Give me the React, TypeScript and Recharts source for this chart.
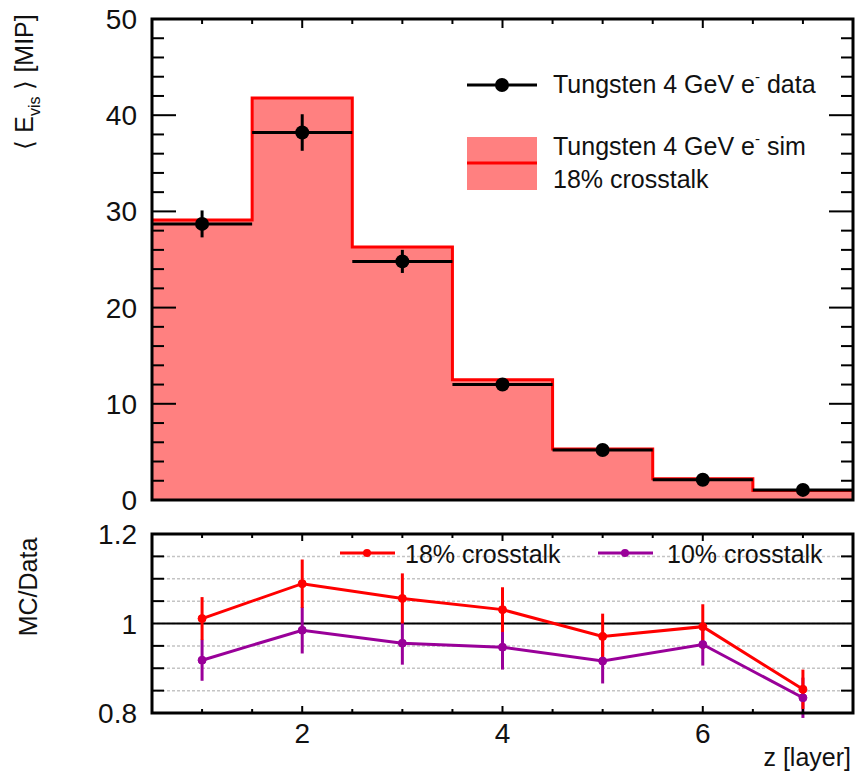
import React from 'react'
import { ComposedChart, Area, Scatter, Line, XAxis, YAxis, CartesianGrid, ErrorBar, ReferenceLine } from 'recharts'

// layer index (bin centres)
const layers = [1, 2, 3, 4, 5, 6, 7]

// top panel: <E_vis> in MIP
const simEnergy = [29.1, 41.8, 26.3, 12.5, 5.3, 2.2, 1.0]
const dataEnergy = [28.7, 38.2, 24.8, 12.0, 5.2, 2.1, 1.05]
const dataEnergyErr = [1.4, 1.9, 1.2, 0.6, 0.35, 0.25, 0.2]

// bottom panel: MC/Data ratios
const ratio18 = [1.011, 1.089, 1.056, 1.031, 0.971, 0.993, 0.853]
const ratio18Err = [0.048, 0.054, 0.056, 0.05, 0.051, 0.05, 0.044]
const ratio10 = [0.918, 0.985, 0.956, 0.947, 0.916, 0.953, 0.834]
const ratio10Err = [0.046, 0.052, 0.048, 0.05, 0.05, 0.047, 0.045]

// ticks
const xTicks = [1, 1.5, 2, 2.5, 3, 3.5, 4, 4.5, 5, 5.5, 6, 6.5, 7]
const xLabels = [2, 4, 6]
const xRange = [0.5, 7.5]
const energyTicks = [0, 2, 4, 6, 8, 10, 12, 14, 16, 18, 20, 22, 24, 26, 28, 30, 32, 34, 36, 38, 40, 42, 44, 46, 48, 50]
const energyRange = [0, 50]
const ratioTicks = [0.8, 0.85, 0.9, 0.95, 1, 1.05, 1.1, 1.15, 1.2]
const ratioLabels = [0.8, 1, 1.2]
const ratioRange = [0.8, 1.2]

const dataName = 'Tungsten 4 GeV e'
const simName = 'Tungsten 4 GeV e'
const name18 = '18% crosstalk'
const name10 = '10% crosstalk'

const FONT = '"Liberation Sans", Arial, Helvetica, sans-serif'
const INK = '#111'
const RED = '#ff0000'
const PURPLE = '#990099'
const HIST_FILL = '#ff8080'

// pad geometry (px)
const W = 855
const PAD_LEFT = 152
const PAD_RIGHT = 2
const TOP_H = 520
const TOP_MARGIN_T = 19
const TOP_MARGIN_B = 20
const BOT_H = 254
const BOT_MARGIN_T = 14
const BOT_AXIS_H = 61

// histogram drawn as a step area over bin edges
const histTable = [
  ...layers.map((l, i) => ({ x: l - 0.5, sim: simEnergy[i] })),
  { x: layers[layers.length - 1] + 0.5, sim: simEnergy[simEnergy.length - 1] },
]
const dataPoints = layers.map((l, i) => ({ x: l, y: dataEnergy[i], yErr: dataEnergyErr[i], xErr: 0.5 }))
const ratioTable = layers.map((l, i) => ({
  x: l,
  r18: ratio18[i],
  r18Err: ratio18Err[i],
  r10: ratio10[i],
  r10Err: ratio10Err[i],
}))

const near = (a: number, b: number) => Math.abs(a - b) < 1e-6
const isMajorX = (v: number) => xLabels.some(m => near(m, v))
const isRatioLabel = (v: number) => ratioLabels.some(m => near(m, v))

// ROOT style inward ticks
const leftTick = (len: (v: number) => number, label: (v: number) => string | null) => (p: any) => {
  const v = p.payload.value
  const t = label(v)
  return (
    <g>
      <line x1={p.x} y1={p.y} x2={p.x + len(v)} y2={p.y} stroke="#000" strokeWidth={2} />
      {t !== null && (
        <text x={p.x - 15} y={p.y + 10} textAnchor="end" fontSize={28} fontFamily={FONT} fill={INK}>
          {t}
        </text>
      )}
    </g>
  )
}

const bottomTick = (len: (v: number) => number, label: (v: number) => string | null) => (p: any) => {
  const v = p.payload.value
  const t = label(v)
  return (
    <g>
      <line x1={p.x} y1={p.y} x2={p.x} y2={p.y - len(v)} stroke="#000" strokeWidth={2} />
      {t !== null && (
        <text x={p.x} y={p.y + 30} textAnchor="middle" fontSize={28} fontFamily={FONT} fill={INK}>
          {t}
        </text>
      )}
    </g>
  )
}

const frame = { stroke: '#000', strokeWidth: 2 }

function EnergyPanel() {
  return (
    <ComposedChart
      width={W}
      height={TOP_H}
      data={histTable}
      margin={{ top: TOP_MARGIN_T, right: PAD_RIGHT, bottom: TOP_MARGIN_B, left: 0 }}
    >
      <XAxis
        dataKey="x"
        type="number"
        domain={xRange}
        ticks={xTicks}
        interval={0}
        allowDataOverflow
        height={0}
        tickSize={0}
        tickMargin={0}
        axisLine={frame}
        tickLine={false}
        tick={bottomTick(v => (isMajorX(v) ? 9 : 4), () => null)}
      />
      <YAxis
        type="number"
        domain={energyRange}
        ticks={energyTicks}
        interval={0}
        allowDataOverflow
        width={PAD_LEFT}
        tickSize={0}
        tickMargin={0}
        axisLine={frame}
        tickLine={false}
        tick={leftTick(v => (v % 10 === 0 ? 24 : 12), v => (v % 10 === 0 ? String(v) : null))}
      />
      <Area
        type="stepAfter"
        dataKey="sim"
        stroke={RED}
        strokeWidth={3}
        fill={HIST_FILL}
        fillOpacity={1}
        isAnimationActive={false}
      />
      <Scatter
        data={dataPoints}
        dataKey="y"
        fill="#000"
        isAnimationActive={false}
        shape={(p: any) => <circle cx={p.cx} cy={p.cy} r={7} fill="#000" />}
      >
        <ErrorBar dataKey="xErr" direction="x" width={0} stroke="#000" strokeWidth={3} />
        <ErrorBar dataKey="yErr" direction="y" width={0} stroke="#000" strokeWidth={3} />
      </Scatter>
    </ComposedChart>
  )
}

function RatioPanel() {
  return (
    <ComposedChart
      width={W}
      height={BOT_H}
      data={ratioTable}
      margin={{ top: BOT_MARGIN_T, right: PAD_RIGHT, bottom: 0, left: 0 }}
    >
      <CartesianGrid vertical={false} stroke="#c4c4c4" strokeWidth={1.5} strokeDasharray="3 2" />
      <XAxis
        dataKey="x"
        type="number"
        domain={xRange}
        ticks={xTicks}
        interval={0}
        allowDataOverflow
        height={BOT_AXIS_H}
        tickSize={0}
        tickMargin={0}
        axisLine={frame}
        tickLine={false}
        tick={bottomTick(v => (isMajorX(v) ? 7 : 4), v => (isMajorX(v) ? String(v) : null))}
      />
      <YAxis
        type="number"
        domain={ratioRange}
        ticks={ratioTicks}
        interval={0}
        allowDataOverflow
        width={PAD_LEFT}
        tickSize={0}
        tickMargin={0}
        axisLine={frame}
        tickLine={false}
        tick={leftTick(
          v => (isRatioLabel(v) ? 0 : 12),
          v => (isRatioLabel(v) ? String(Math.round(v * 10) / 10) : null),
        )}
      />
      <ReferenceLine y={1} stroke="#000" strokeWidth={2} />
      <Line
        dataKey="r10"
        stroke={PURPLE}
        strokeWidth={3}
        dot={{ r: 4, fill: PURPLE, stroke: PURPLE, strokeWidth: 1 }}
        isAnimationActive={false}
      >
        <ErrorBar dataKey="r10Err" direction="y" width={0} stroke={PURPLE} strokeWidth={3} />
      </Line>
      <Line
        dataKey="r18"
        stroke={RED}
        strokeWidth={3}
        dot={{ r: 4, fill: RED, stroke: RED, strokeWidth: 1 }}
        isAnimationActive={false}
      >
        <ErrorBar dataKey="r18Err" direction="y" width={0} stroke={RED} strokeWidth={3} />
      </Line>
    </ComposedChart>
  )
}

// pad box with the mirrored ticks on the top and right edges
function PadBox(props: {
  top: number
  height: number
  yTicks: number[]
  yRange: number[]
  xLen: (v: number) => number
  yLen: (v: number) => number
}) {
  const { top, height, yTicks, yRange, xLen, yLen } = props
  const left = PAD_LEFT
  const width = W - PAD_LEFT - PAD_RIGHT
  const right = left + width
  const bottom = top + height
  const sx = (v: number) => left + ((v - xRange[0]) / (xRange[1] - xRange[0])) * width
  const sy = (v: number) => bottom - ((v - yRange[0]) / (yRange[1] - yRange[0])) * height
  return (
    <g stroke="#000" strokeWidth={3} fill="none">
      <path d={`M${left},${top} L${right},${top} L${right},${bottom} L${left},${bottom} Z`} strokeLinejoin="miter" />
      {xTicks.map(v => (
        <line key={'t' + v} x1={sx(v)} y1={top} x2={sx(v)} y2={top + xLen(v)} strokeWidth={2} />
      ))}
      {yTicks.map(v => (
        <line key={'r' + v} x1={right} y1={sy(v)} x2={right - yLen(v)} y2={sy(v)} strokeWidth={2} />
      ))}
    </g>
  )
}

function Labels() {
  const txt = { fontFamily: FONT, fill: INK, fontSize: 25 }
  return (
    <svg width={W} height={774} style={{ position: 'absolute', left: 0, top: 0, pointerEvents: 'none' }}>
      <PadBox
        top={TOP_MARGIN_T}
        height={TOP_H - TOP_MARGIN_T - TOP_MARGIN_B}
        yTicks={energyTicks}
        yRange={energyRange}
        xLen={v => (isMajorX(v) ? 9 : 5)}
        yLen={v => (v % 10 === 0 ? 24 : 12)}
      />
      <PadBox
        top={TOP_H + BOT_MARGIN_T}
        height={BOT_H - BOT_MARGIN_T - BOT_AXIS_H}
        yTicks={ratioTicks}
        yRange={ratioRange}
        xLen={v => (isMajorX(v) ? 7 : 4)}
        yLen={v => (isRatioLabel(v) ? 0 : 12)}
      />

      {/* axis titles */}
      <text transform="translate(33,82) rotate(-90)" textAnchor="middle" {...txt}>
        {'\u27E8 E'}
        <tspan fontSize={16} dy={7}>vis</tspan>
        <tspan dy={-7}>{' \u27E9 [MIP]'}</tspan>
      </text>
      <text transform="translate(37,587) rotate(-90)" textAnchor="middle" {...txt}>
        MC/Data
      </text>
      <text x={851} y={766} textAnchor="end" {...txt}>
        z [layer]
      </text>

      {/* top legend */}
      <line x1={467} y1={85} x2={537} y2={85} stroke="#000" strokeWidth={3} />
      <circle cx={502} cy={85} r={7} fill="#000" />
      <text x={553} y={93} {...txt}>
        {dataName}
        <tspan fontSize={15} dy={-11}>-</tspan>
        <tspan dy={11}> data</tspan>
      </text>
      <rect x={467} y={137} width={70} height={53} fill={HIST_FILL} />
      <line x1={467} y1={163} x2={537} y2={163} stroke={RED} strokeWidth={3} />
      <text x={553} y={155} {...txt}>
        {simName}
        <tspan fontSize={15} dy={-11}>-</tspan>
        <tspan dy={11}> sim</tspan>
      </text>
      <text x={553} y={188} {...txt}>
        {name18}
      </text>

      {/* ratio legend */}
      <line x1={340} y1={553} x2={395} y2={553} stroke={RED} strokeWidth={3} />
      <circle cx={367} cy={553} r={4} fill={RED} />
      <text x={405} y={563} {...txt}>
        {name18}
      </text>
      <line x1={598} y1={553} x2={653} y2={553} stroke={PURPLE} strokeWidth={3} />
      <circle cx={625} cy={553} r={4} fill={PURPLE} />
      <text x={667} y={563} {...txt}>
        {name10}
      </text>
    </svg>
  )
}

export default function App() {
  return (
    <div style={{ position: 'absolute', left: 0, top: 0, width: W, height: 774, background: '#fff' }}>
      <div style={{ position: 'absolute', left: 0, top: 0 }}>
        <EnergyPanel />
      </div>
      <div style={{ position: 'absolute', left: 0, top: TOP_H }}>
        <RatioPanel />
      </div>
      <Labels />
    </div>
  )
}
